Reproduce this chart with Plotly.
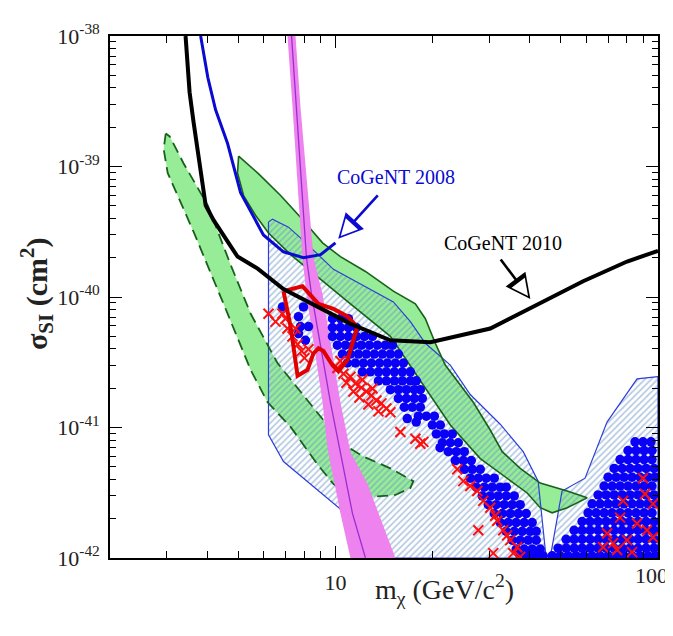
import numpy as np
import plotly.graph_objects as go

SERIF = "Liberation Serif, Times New Roman, serif"
UNIT = 1e-40  # all sigma values below are in units of 1e-40 cm^2

# ---------------- data (mass in GeV/c^2, sigma in 1e-40 cm^2) ----------------
cogent2010_mass = [3.43, 3.48, 3.53, 3.63, 3.77, 3.90, 3.96, 4.19, 4.97, 5.74, 6.90,
                   11.1, 14.8, 19.7, 30.2, 41.0, 58.6, 80.2, 100]
cogent2010_sigma = [100, 57.4, 37.1, 22.0, 12.0, 7.12, 5.03, 3.88, 2.04, 1.65, 1.15,
                    0.625, 0.466, 0.450, 0.573, 0.841, 1.32, 1.87, 2.26]

cogent2008_mass = [3.82, 4.02, 4.25, 4.63, 5.08, 5.98, 6.90, 7.96, 8.99, 10.0]
cogent2008_sigma = [100, 48.2, 27.2, 15.0, 6.3, 2.99, 2.22, 2.0, 2.11, 2.6]

green_solid_mass = [5.01, 5.78, 6.76, 7.79, 9.12, 10.36, 12.39, 15.12, 17.69, 19.0, 20.4,
                    21.9, 26.75, 30.19, 32.89, 37.39, 43.13, 52.3, 60.3, 52.3, 46.97,
                    43.13, 39.3, 34.07, 28.12, 22.70, 18.73, 14.80, 11.13, 8.99, 7.26,
                    6.20, 5.65, 5.19, 4.97, 5.01]
green_solid_sigma = [12.0, 8.78, 5.99, 4.09, 2.60, 2.04, 1.57, 1.11, 0.885, 0.682, 0.442,
                     0.301, 0.156, 0.0957, 0.0653, 0.0486, 0.0375, 0.0326, 0.0289, 0.0243,
                     0.0222, 0.0243, 0.0315, 0.0409, 0.0578, 0.1045, 0.209, 0.499, 0.885,
                     1.37, 2.11, 3.09, 4.23, 5.99, 8.93, 12.0]

green_dash_mass = [2.977, 2.934, 3.019, 3.634, 4.50, 5.46, 6.16, 7.26, 8.80, 9.86, 11.13,
                   12.83, 15.34, 17.07, 17.44, 14.8, 12.21, 11.13, 9.65, 7.96, 6.61, 5.46,
                   4.73, 4.02, 3.38, 3.063, 2.977]
green_dash_sigma = [17.9, 13.55, 8.93, 3.15, 0.885, 0.276, 0.156, 0.101, 0.0521, 0.0368,
                    0.0309, 0.0294, 0.0304, 0.0344, 0.0388, 0.0486, 0.0599, 0.0688, 0.0975,
                    0.176, 0.312, 0.744, 1.77, 5.03, 10.6, 17.0, 17.9]

hatch_a_mass = [6.20, 6.38, 7.15, 7.79, 9.86, 11.95, 15.12, 17.07, 19.0, 22.7, 26.18,
                32.42, 38.2, 42.5, 45.0, 12.12, 10.51, 6.90, 6.20, 6.20]
hatch_a_sigma = [3.75, 3.95, 3.43, 2.84, 1.63, 1.25, 0.917, 0.648, 0.442, 0.301, 0.179,
                 0.106, 0.0653, 0.0388, 0.01, 0.01, 0.0230, 0.0549, 0.0878, 3.75]

hatch_b_mass = [46.3, 50.4, 59.4, 69.5, 86.1, 100, 100, 46.3]
hatch_b_sigma = [0.01, 0.0326, 0.0409, 0.110, 0.236, 0.245, 0.01, 0.01]

pink_left_mass = [7.10, 7.36, 7.90, 8.13, 9.12, 9.45, 10.36, 11.13]
pink_left_sigma = [100, 28.6, 2.0, 1.05, 0.156, 0.069, 0.022, 0.01]
pink_right_mass = [7.52, 7.79, 8.55, 9.12, 10.36, 11.13, 12.57, 13.59, 15.34]
pink_right_sigma = [100, 28.6, 2.0, 1.05, 0.156, 0.065, 0.037, 0.022, 0.01]
pink_line_mass = [7.31, 8.13, 8.43, 9.65, 11.29, 12.39]
pink_line_sigma = [100, 2.0, 1.05, 0.156, 0.022, 0.01]

red_contour_mass = [6.90, 7.90, 8.86, 9.86, 10.9, 11.7, 11.37, 10.9, 10.21, 9.79, 9.18,
                    8.86, 8.55, 8.19, 7.63, 7.26, 6.90]
red_contour_sigma = [1.11, 1.21, 0.885, 0.81, 0.71, 0.59, 0.47, 0.33, 0.27, 0.30, 0.385,
                     0.405, 0.37, 0.276, 0.249, 0.594, 1.11]

# blue model points: rows of (sigma, [masses])
blue_rows = [
    (0.840, [6.85, 7.96]), (0.706, [7.68]), (0.594, [7.79, 8.25]), (0.525, [7.68]),
    (0.466, [8.07]),
    (0.682, [9.79, 10.36, 10.97]),
    (0.583, [9.79, 10.36, 10.97, 11.61]),
    (0.499, [9.79, 10.36, 10.97, 11.61, 12.30, 13.02]),
    (0.427, [10.14, 10.74, 11.37, 12.03, 12.74, 13.49, 14.28, 15.02]),
    (0.365, [10.51, 11.13, 11.78, 12.47, 13.20, 13.98, 14.80, 15.67]),
    (0.312, [10.89, 11.53, 12.21, 12.93, 13.69, 14.49, 15.34, 16.24]),
    (0.267, [12.12, 12.83, 13.59, 14.38, 15.23, 16.12, 17.07]),
    (0.228, [13.59, 14.38, 15.23, 16.12, 17.07, 17.81]),
    (0.195, [14.80, 15.67, 16.59, 17.56, 18.33]),
    (0.167, [15.67, 16.59, 17.56, 18.59]),
    (0.143, [16.35, 17.31, 18.33]),
    (0.122, [18.07, 19.13, 20.26]),
    (0.117, [16.7]), (0.110, [17.8]),
    (0.1045, [19.97, 21.14]),
    (0.0893, [20.55, 21.76, 23.02]),
    (0.0764, [21.45, 22.70, 24.03]),
    (0.070, [21.1]),
    (0.0653, [22.38, 23.69, 25.09]),
    (0.0558, [23.52, 24.91, 26.37]),
    (0.0478, [25.09, 26.56, 28.12]),
    (0.0409, [26.18, 27.72, 29.34, 31.07]),
    (0.0349, [27.33, 28.93, 30.63, 32.42, 33.84]),
    (0.0299, [28.52, 30.19, 31.96, 33.84, 35.83]),
    (0.0256, [29.77, 31.51, 33.36, 35.32, 37.39]),
    (0.0219, [31.07, 32.89, 34.82, 36.86, 39.03]),
    (0.0187, [32.42, 34.32, 36.34, 38.47, 40.73]),
    (0.0160, [33.84, 35.83, 37.93, 40.16, 41.91]),
    (0.0137, [35.32, 37.39, 39.59, 41.91]),
    (0.0117, [36.34, 38.47, 40.73, 43.13]),
    (0.0104, [37.39, 39.59, 41.91, 44.06]),
    (0.0776, [84.88, 89.87, 95.13]),
    (0.0665, [80.75, 85.49, 90.52, 95.81]),
    (0.0568, [76.28, 80.75, 85.49, 90.52, 95.81]),
    (0.0486, [73.10, 77.38, 81.91, 86.72, 91.82, 97.19]),
    (0.0416, [70.03, 74.13, 78.47, 83.09, 87.97, 93.11, 97.88]),
    (0.0356, [68.06, 72.06, 76.28, 80.75, 85.49, 90.52, 95.81]),
    (0.0304, [65.21, 69.04, 73.10, 77.38, 81.91, 86.72, 91.82, 97.19]),
    (0.0260, [62.47, 66.14, 70.03, 74.13, 78.47, 83.09, 87.97, 93.11, 97.88]),
    (0.0222, [60.71, 64.28, 68.06, 72.06, 76.28, 80.75, 85.49, 90.52, 95.81]),
    (0.0190, [58.16, 61.58, 65.21, 69.04, 73.10, 77.38, 81.91, 86.72, 91.82, 97.19]),
    (0.0163, [54.95, 58.16, 61.58, 65.21, 69.04, 73.10, 77.38, 81.91, 86.72, 91.82, 97.19]),
    (0.0139, [51.90, 54.95, 58.16, 61.58, 65.21, 69.04, 73.10, 77.38, 81.91, 86.72, 91.82,
              97.19]),
    (0.0119, [49.02, 51.90, 54.95, 58.16, 61.58, 65.21, 69.04, 73.10, 77.38, 81.91, 86.72,
              91.82, 97.19]),
    (0.0104, [46.97, 49.73, 52.65, 55.74, 59.00, 62.47, 66.14, 70.03, 74.13, 78.47, 83.09,
              87.97, 93.11, 97.88]),
]

red_mass = [6.20, 6.52, 6.85, 7.00, 7.10, 7.52, 7.36, 7.63, 7.85, 8.02, 8.25,
            10.14, 10.59, 11.13, 10.82, 11.53, 12.03, 12.47, 11.37, 12.93, 13.40, 13.88,
            14.38, 12.65, 14.80, 13.59, 11.87, 10.36, 12.12, 13.02,
            15.9, 17.69, 18.33, 18.73,
            23.86, 24.91, 26.18, 27.52, 28.73, 30.19, 31.29, 31.74, 33.12, 34.07, 34.82,
            36.60, 27.72, 30.85, 35.57, 37.39,
            89.87, 91.17, 77.93, 76.28, 86.10, 92.47, 69.53, 72.56, 80.17, 67.58, 74.68,
            83.09, 96.5, 96.5]
red_sigma = [0.744, 0.648, 0.744, 0.682, 0.573, 0.573, 0.499, 0.434, 0.385, 0.340, 0.398,
             0.286, 0.258, 0.245, 0.220, 0.217, 0.202, 0.189, 0.189, 0.176, 0.161, 0.153,
             0.140, 0.150, 0.131, 0.133, 0.170, 0.323, 0.232, 0.199,
             0.0924, 0.0819, 0.0751, 0.0776,
             0.0478, 0.0388, 0.0356, 0.0326, 0.0274, 0.0243, 0.0211, 0.0193, 0.0163, 0.0149,
             0.0137, 0.0121, 0.0163, 0.0109, 0.0109, 0.0102,
             0.0409, 0.0309, 0.0274, 0.0204, 0.0184, 0.0163, 0.0154, 0.0130, 0.0137, 0.0121,
             0.0115, 0.0111, 0.0260, 0.0144]

x_tick_vals = [10, 100]
x_tick_text = ["10", "100"]
x_minor_vals = [3, 4, 5, 6, 7, 8, 9, 20, 30, 40, 50, 60, 70, 80, 90]
y_exponents = [-42, -41, -40, -39, -38]

# ---------------- colours ----------------
GREEN = "#97ec97"
DKGREEN = "#17621a"
HATCH = "#6892c4"
HATCH_EDGE = "#2d3fd8"
PINK = "#ee82ee"
PURPLE = "#9a2fd0"
BLUE_LINE = "#0a0ad0"
TEXT = "#222"


def cm2(vals):
    return [v * UNIT for v in vals]


fig = go.Figure()


def add(mass, sigma, **kw):
    fig.add_trace(go.Scatter(x=mass, y=cm2(sigma), hoverinfo="skip", showlegend=False, **kw))


# green regions (fill)
add(green_solid_mass, green_solid_sigma, mode="lines", fill="toself", fillcolor=GREEN,
    line=dict(width=0))
add(green_dash_mass, green_dash_sigma, mode="lines", fill="toself", fillcolor=GREEN,
    line=dict(width=0))

# hatched regions
for hm, hs in [(hatch_a_mass, hatch_a_sigma), (hatch_b_mass, hatch_b_sigma)]:
    add(hm, hs, mode="lines", fill="toself", fillcolor="rgba(0,0,0,0)",
        fillpattern=dict(shape="/", fgcolor=HATCH, size=4.5, solidity=0.38),
        line=dict(color=HATCH_EDGE, width=1.2))

# green outlines
add(green_solid_mass, green_solid_sigma, mode="lines", line=dict(color=DKGREEN, width=1.6))
add(green_dash_mass, green_dash_sigma, mode="lines",
    line=dict(color=DKGREEN, width=1.8, dash="11px,6px"))

# magenta band
add(pink_left_mass + pink_right_mass[::-1], pink_left_sigma + pink_right_sigma[::-1],
    mode="lines", fill="toself", fillcolor=PINK, line=dict(width=0))
add(pink_line_mass, pink_line_sigma, mode="lines", line=dict(color=PURPLE, width=1.3))

# model points
bx, by = [], []
for s, ms in blue_rows:
    for m in ms:
        bx.append(m)
        by.append(s)
add(bx, by, mode="markers", marker=dict(size=9.5, color="#0a00f5", line=dict(width=0)))
add(red_mass, red_sigma, mode="markers",
    marker=dict(symbol="x-thin", size=10, color="#ff1010", line=dict(width=2, color="#ff1010")))

# CoGeNT region and limits
add(red_contour_mass, red_contour_sigma, mode="lines", line=dict(color="#e00000", width=4))
add(cogent2010_mass, cogent2010_sigma, mode="lines", line=dict(color="black", width=4))
add(cogent2008_mass, cogent2008_sigma, mode="lines", line=dict(color=BLUE_LINE, width=3))


def hollow_arrow(tip_m, tip_s, ax, ay, color):
    x, y = np.log10(tip_m), np.log10(tip_s * UNIT)
    fig.add_annotation(x=x, y=y, ax=ax, ay=ay, text="", showarrow=True, arrowhead=2,
                       arrowsize=1.9, arrowwidth=2.6, arrowcolor=color,
                       font=dict(size=1), borderpad=0)
    L = (ax ** 2 + ay ** 2) ** 0.5
    fig.add_annotation(x=x, y=y, ax=ax / L * 13, ay=ay / L * 13, text="", showarrow=True,
                       arrowhead=2, arrowsize=3.3, arrowwidth=1, arrowcolor="white",
                       standoff=3.8, font=dict(size=1), borderpad=0)


hollow_arrow(10.2, 2.79, 40, -44, BLUE_LINE)
hollow_arrow(40.2, 0.966, -30, -40, "black")

fig.add_annotation(x=np.log10(15.45), y=np.log10(8.33 * UNIT), text="CoGeNT 2008",
                   showarrow=False, font=dict(family=SERIF, size=20, color=BLUE_LINE))
fig.add_annotation(x=np.log10(33.1), y=np.log10(2.60 * UNIT), text="CoGeNT 2010",
                   showarrow=False, font=dict(family=SERIF, size=20, color="black"))

# the last x tick label sits on the figure edge, so it is drawn as an annotation
fig.add_annotation(x=np.log10(x_tick_vals[-1]), y=0, xref="x", yref="paper",
                   xanchor="right", xshift=12, yanchor="top", yshift=-3,
                   text=x_tick_text[-1], showarrow=False,
                   font=dict(family=SERIF, size=22, color=TEXT))

# axis titles
fig.add_annotation(xref="paper", yref="paper", x=0.611, y=-0.02, xanchor="center",
                   yanchor="top", text="m<sub>χ</sub> (GeV/c<sup>2</sup>)", showarrow=False,
                   font=dict(family=SERIF, size=28, color=TEXT))
fig.add_annotation(xref="paper", yref="paper", x=-0.133, y=0.506, xanchor="center",
                   yanchor="middle", textangle=-90,
                   text="<b>σ<sub>SI</sub> (cm<sup>2</sup>)</b>", showarrow=False,
                   font=dict(family=SERIF, size=30, color=TEXT))

y_minor = [k * 10.0 ** e for e in y_exponents[:-1] for k in range(2, 10)]

fig.update_xaxes(type="log", range=[np.log10(2), 2], showline=True, linecolor="black",
                 linewidth=1.6, mirror="allticks", ticks="inside", ticklen=12, tickwidth=1.3,
                 tickcolor="black", tickvals=x_tick_vals,
                 ticktext=x_tick_text[:-1] + [""],
                 showgrid=False, zeroline=False, ticklabelstandoff=4,
                 tickfont=dict(family=SERIF, size=22, color=TEXT),
                 minor=dict(tickvals=x_minor_vals, ticks="inside", ticklen=7,
                            tickcolor="black", tickwidth=1, showgrid=False))
fig.update_yaxes(type="log", range=[-42, -38], showline=True, linecolor="black",
                 linewidth=1.6, mirror="allticks", ticks="inside", ticklen=12, tickwidth=1.3,
                 tickcolor="black", tickvals=[10.0 ** e for e in y_exponents],
                 ticktext=["10<sup>%d</sup>" % e for e in y_exponents],
                 showgrid=False, zeroline=False, ticklabelstandoff=4,
                 tickfont=dict(family=SERIF, size=22, color=TEXT),
                 minor=dict(tickvals=y_minor, ticks="inside", ticklen=6,
                            tickcolor="black", tickwidth=1, showgrid=False))

# page body has an 8px default margin: figure sized so plot area lands at (110..658, 28..558)
fig.update_layout(width=665, height=620, margin=dict(l=102, r=15, t=20, b=70),
                  plot_bgcolor="white", paper_bgcolor="white", showlegend=False)

fig.write_html("out.html")
